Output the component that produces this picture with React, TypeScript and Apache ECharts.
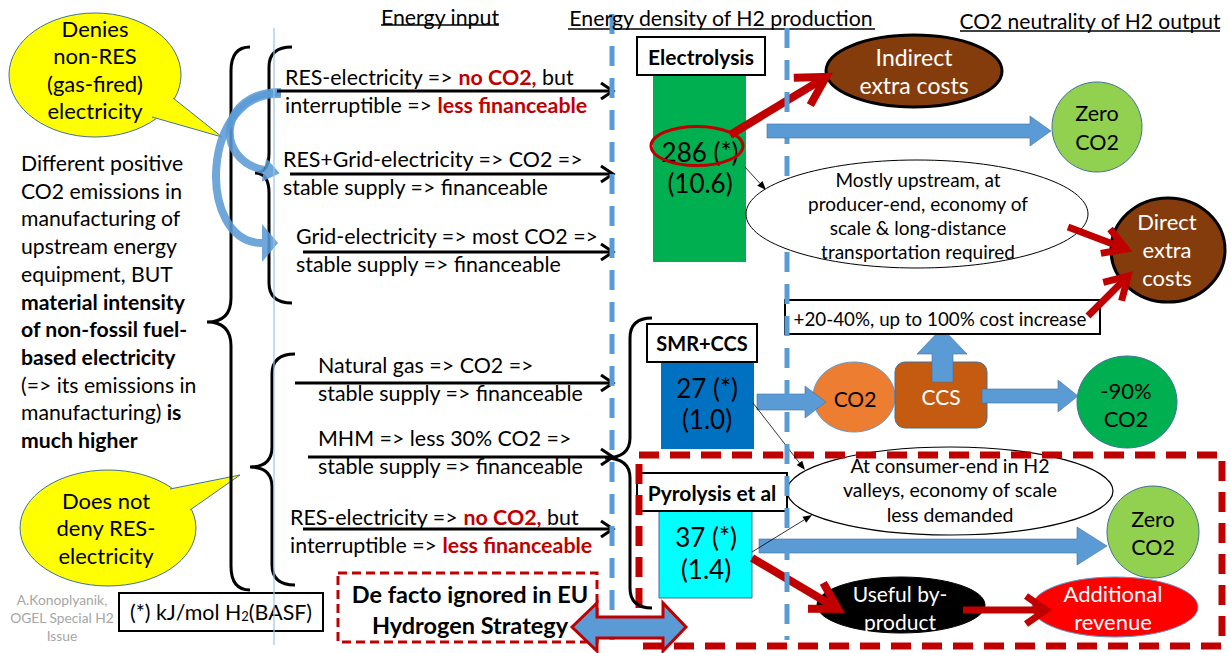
import React, { useEffect, useRef } from "react";
import * as echarts from "echarts";

// ---------------- data (texts & values) ----------------
const headers = ["Energy input", "Energy density of H2 production", "CO2 neutrality of H2 output"];
const calloutDenies = ["Denies", "non-RES", "(gas-fired)", "electricity"];
const calloutNotDeny = ["Does not", "deny RES-", "electricity"];
const leftNote = [
  "Different positive",
  "CO2 emissions in",
  "manufacturing of",
  "upstream energy",
  "equipment, BUT",
  "{b|material intensity}",
  "{b|of non-fossil fuel-}",
  "{b|based electricity}",
  "(=> its emissions in",
  "manufacturing) {b|is}",
  "{b|much higher}",
];
const credit = ["A.Konoplyanik,", "OGEL Special H2", "Issue"];
const unitNote = "(*) kJ/mol H{sub|2}(BASF)";
const energyInputs = [
  ["RES-electricity => {r|no CO2,} but", "interruptible => {r|less financeable}"],
  ["RES+Grid-electricity => CO2 =>", "stable supply => financeable"],
  ["Grid-electricity => most CO2 =>", "stable supply => financeable"],
  ["Natural gas => CO2 =>", "stable supply => financeable"],
  ["MHM => less 30% CO2 =>", "stable supply => financeable"],
  ["RES-electricity => {r|no CO2,} but", "interruptible => {r|less financeable}"],
];
const processes = ["Electrolysis", "SMR+CCS", "Pyrolysis et al"];
const energyDensity = [286, 27, 37];
const relativeDensity = ["10.6", "1.0", "1.4"];
const upstreamNote = ["Mostly upstream, at", "producer-end, economy of", "scale & long-distance", "transportation required"];
const consumerNote = ["At consumer-end in H2", "valleys, economy of scale", "less demanded"];
const indirectCosts = ["Indirect", "extra costs"];
const directCosts = ["Direct", "extra", "costs"];
const zeroCO2 = ["Zero", "CO2"];
const minus90CO2 = ["-90%", "CO2"];
const costIncrease = "+20-40%, up to 100% cost increase";
const ccsSteps = ["CO2", "CCS"];
const byProduct = ["Useful by-", "product"];
const revenue = ["Additional", "revenue"];
const ignoredNote = ["De facto ignored in EU", "Hydrogen Strategy"];

// ---------------- styling & layout ----------------
const F = "Lato, 'Open Sans', 'DejaVu Sans', sans-serif";
const RED = "#C00000";
const BLUE = "#5B9BD5";
const BROWN = "#843C0C";
const EDGE = "#41719C";

function bracePath(xt: number, yt: number, xv: number, xtip: number, ym: number, yb: number, r: number) {
  return `M${xt} ${yt}Q${xv} ${yt} ${xv} ${yt + r}L${xv} ${ym - r}Q${xv} ${ym} ${xtip} ${ym}Q${xv} ${ym} ${xv} ${ym + r}L${xv} ${yb - r}Q${xv} ${yb} ${xt} ${yb}`;
}
const BRACES: [string, number[]][] = [
  ["braceBig", [250, 47, 231, 207, 322, 590, 24]],
  ["braceUp", [292, 47, 269, 255, 173, 303, 20]],
  ["braceLow", [295, 354, 272, 250, 467, 585, 20]],
  ["braceRight", [652, 318, 630, 605, 458, 608, 20]],
];
let registered = false;
function registerBraces() {
  if (registered) return;
  registered = true;
  BRACES.forEach(([name, a]) => {
    echarts.graphic.registerShape(
      name,
      echarts.graphic.extendPath(bracePath(a[0], a[1], a[2], a[3], a[4], a[5], a[6]), {}) as any
    );
  });
}

function T(x: number, y: number, text: string, o: any = {}) {
  const size = o.size ?? 21;
  const base = {
    fontFamily: F,
    fontSize: size,
    fontWeight: o.bold ? "bold" : "normal",
    fill: o.color ?? "#000",
  };
  return {
    type: "text",
    x,
    y,
    z: o.z ?? 30,
    silent: true,
    style: {
      ...base,
      text,
      align: o.align ?? "left",
      verticalAlign: "middle",
      rich: {
        r: { ...base, fill: RED, fontWeight: "bold" },
        b: { ...base, fontWeight: "bold" },
        sub: { ...base, fontSize: Math.round(size * 0.62), verticalAlign: "bottom" },
      },
    },
  };
}
function ML(x: number, y0: number, dy: number, arr: string[], o: any = {}) {
  return arr.map((s, i) => T(x, y0 + i * dy, s, o));
}
function L(x1: number, y1: number, x2: number, y2: number, stroke = "#000", lw = 1, z = 10, dash?: number[]) {
  return {
    type: "line",
    z,
    silent: true,
    shape: { x1, y1, x2, y2 },
    style: { stroke, lineWidth: lw, lineDash: dash, lineCap: "butt" },
  };
}
function E(cx: number, cy: number, rx: number, ry: number, fill: string, stroke: string, lw: number, z = 12) {
  return { type: "ellipse", z, silent: true, shape: { cx, cy, rx, ry }, style: { fill, stroke, lineWidth: lw } };
}
function R(x: number, y: number, w: number, h: number, fill: string, stroke: string | null, lw: number, z = 12, extra: any = {}) {
  return {
    type: "rect",
    z,
    silent: true,
    shape: { x, y, width: w, height: h, r: extra.r ?? 0 },
    style: { fill, stroke, lineWidth: lw, lineDash: extra.dash },
  };
}
function P(points: number[][], fill: string, stroke: string | null = null, lw = 1, z = 12, opacity = 1) {
  return { type: "polygon", z, silent: true, shape: { points }, style: { fill, stroke, lineWidth: lw, opacity } };
}
function dir(x1: number, y1: number, x2: number, y2: number) {
  const dx = x2 - x1, dy = y2 - y1, len = Math.hypot(dx, dy);
  const ux = dx / len, uy = dy / len;
  return { ux, uy, px: -uy, py: ux };
}
// open-chevron arrow
function chevronArrow(x1: number, y1: number, x2: number, y2: number, color: string, lw: number, hl: number, hw: number, z = 20) {
  const { ux, uy, px, py } = dir(x1, y1, x2, y2);
  const bx = x2 - ux * hl, by = y2 - uy * hl;
  return [
    L(x1, y1, x2 - ux * lw * 0.8, y2 - uy * lw * 0.8, color, lw, z),
    {
      type: "polyline",
      z,
      silent: true,
      shape: { points: [[bx + px * hw, by + py * hw], [x2, y2], [bx - px * hw, by - py * hw]] },
      style: { stroke: color, lineWidth: lw, fill: "none", lineJoin: "miter", lineCap: "butt" },
    },
  ];
}
function thinArrow(x1: number, y1: number, x2: number, y2: number, z = 20) {
  const { ux, uy, px, py } = dir(x1, y1, x2, y2);
  const bx = x2 - ux * 9, by = y2 - uy * 9;
  return [
    L(x1, y1, bx, by, "#000", 0.8, z),
    P([[x2, y2], [bx + px * 3.5, by + py * 3.5], [bx - px * 3.5, by - py * 3.5]], "#000", null, 1, z),
  ];
}
function blockArrowH(x0: number, x1: number, xt: number, yc: number, sh: number, hh: number, z = 14) {
  return P(
    [[x0, yc - sh], [x1, yc - sh], [x1, yc - hh], [xt, yc], [x1, yc + hh], [x1, yc + sh], [x0, yc + sh]],
    BLUE,
    EDGE,
    0.6,
    z
  );
}
function curvedArrow(x1: number, y1: number, c1x: number, c1y: number, c2x: number, c2y: number, x2: number, y2: number, hw: number) {
  const { ux, uy, px, py } = dir(c2x, c2y, x2, y2);
  return [
    {
      type: "bezierCurve",
      z: 16,
      silent: true,
      shape: { x1, y1, x2, y2, cpx1: c1x, cpy1: c1y, cpx2: c2x, cpy2: c2y },
      style: { stroke: BLUE, lineWidth: 8, fill: "none", opacity: 0.88 },
    },
    P(
      [[x2 + ux * 16, y2 + uy * 16], [x2 + px * hw, y2 + py * hw], [x2 - px * hw, y2 - py * hw]],
      BLUE,
      null,
      1,
      16,
      0.88
    ),
  ];
}

const inputLayout = [
  { tx: 285, ty: 77, ax1: 277, ay: 91 },
  { tx: 283, ty: 159, ax1: 290, ay: 174 },
  { tx: 296, ty: 236, ax1: 303, ay: 252 },
  { tx: 318, ty: 365, ax1: 295, ay: 383 },
  { tx: 318, ty: 438, ax1: 308, ay: 457 },
  { tx: 290, ty: 517, ax1: 303, ay: 529 },
];
const procLayout = [
  { bx: 637, by: 37, bw: 128, bar: [653, 69, 93, 193], color: "#00B050", tx: 700, ty1: 152, ty2: 183, size: 21 },
  { bx: 647, by: 324, bw: 110, bar: [661, 357, 93, 92], color: "#0070C0", tx: 707, ty1: 388, ty2: 419, size: 20 },
  { bx: 637, by: 473, bw: 150, bar: [659, 506, 93, 92], color: "#00FFFF", tx: 706, ty1: 537, ty2: 569, size: 21 },
];

function buildElements() {
  const els: any[] = [];
  // headers
  els.push(T(440, 17, headers[0], { align: "center", size: 21.3 }));
  els.push(L(381, 25, 499, 25, "#000", 1.3));
  els.push(T(721, 18, headers[1], { align: "center", size: 21.3 }));
  els.push(L(568, 29, 875, 29, "#000", 1.3));
  els.push(T(1090, 20, headers[2], { align: "center", size: 21 }));
  els.push(L(960, 31, 1220, 31, "#000", 1.3));

  // vertical guides
  els.push(L(274, 28, 274, 645, "#9DC3E6", 1.2, 40));
  els.push(L(612, 14, 612, 640, BLUE, 5, 25, [20, 12]));
  els.push(L(787, 28, 787, 640, BLUE, 5, 25, [20, 12]));

  // yellow callouts
  els.push(E(95, 75, 86, 62, "#FFFF00", EDGE, 1, 5));
  els.push(P([[173, 98], [222, 137], [152, 117], [140, 100]], "#FFFF00", null, 1, 6));
  els.push(L(173, 98, 222, 137, EDGE, 1, 6));
  els.push(L(152, 117, 222, 137, EDGE, 1, 6));
  els.push(...ML(95, 28, 27.5, calloutDenies, { align: "center", size: 22 }));

  els.push(E(108, 528, 88, 58, "#FFFF00", EDGE, 1, 5));
  els.push(P([[170, 489], [240, 475], [190, 510], [170, 510]], "#FFFF00", null, 1, 6));
  els.push(L(170, 489, 240, 475, EDGE, 1, 6));
  els.push(L(190, 510, 240, 475, EDGE, 1, 6));
  els.push(...ML(106, 500, 27.5, calloutNotDeny, { align: "center", size: 22 }));

  // left note
  els.push(...ML(21, 163, 27.7, leftNote, { size: 21.2 }));
  // credit
  els.push(...ML(62, 599, 18, credit, { align: "center", size: 13.8, color: "#A6A6A6" }));
  // unit box
  els.push(R(119, 593, 204, 38, "#fff", "#000", 2, 12));
  els.push(T(221, 612, unitNote, { align: "center", size: 21.4 }));

  // braces
  BRACES.forEach(([name]) => {
    els.push({ type: name, z: 14, silent: true, style: { fill: "none", stroke: "#000", lineWidth: 3 } });
  });

  // curved blue arrows
  els.push(...curvedArrow(281, 92, 218, 92, 214, 160, 264, 170, 12));
  els.push(...curvedArrow(281, 94, 200, 90, 196, 243, 262, 243, 19));

  // energy input texts and arrows
  energyInputs.forEach((lines, i) => {
    const l = inputLayout[i];
    els.push(...ML(l.tx, l.ty, 27.7, lines, { size: 21.4 }));
    els.push(...chevronArrow(l.ax1, l.ay, 613, l.ay, "#000", 3, 12, 8, 20));
  });

  // processes
  processes.forEach((name, i) => {
    const p = procLayout[i];
    els.push(R(p.bar[0], p.bar[1], p.bar[2], p.bar[3], p.color, i === 2 ? EDGE : null, 1, 8));
    els.push(R(p.bx, p.by, p.bw, 38, "#fff", "#000", 2, 9));
    els.push(T(p.bx + p.bw / 2, p.by + 19, name, { align: "center", bold: true, size: p.size }));
    els.push(T(p.tx, p.ty1, `${energyDensity[i]} (*)`, { align: "center", size: 26 }));
    els.push(T(p.tx, p.ty2, `(${relativeDensity[i]})`, { align: "center", size: 26 }));
  });
  els.push(E(697, 146, 46, 19.5, "none", RED, 3, 31));

  // electrolysis outputs
  els.push(...chevronArrow(730, 135, 826, 77, RED, 8, 28, 16, 22));
  els.push(E(914, 71, 88, 36, BROWN, "#000", 3, 12));
  els.push(...ML(914, 57, 28, indirectCosts, { align: "center", size: 23, color: "#fff" }));
  els.push(blockArrowH(767, 1030, 1051, 131, 7, 15, 26));
  els.push(E(1097, 127, 45, 45, "#92D050", EDGE, 1, 12));
  els.push(...ML(1097, 113, 29, zeroCO2, { align: "center", size: 21.5 }));
  els.push(...thinArrow(745, 167, 766, 190));
  els.push(E(917, 214, 171, 54, "#fff", "#000", 1, 27));
  els.push(...ML(918, 179, 24.3, upstreamNote, { align: "center", size: 19 }));
  els.push(E(1168, 250, 57, 52, BROWN, "#000", 3, 12));
  els.push(...ML(1167, 221, 28, directCosts, { align: "center", size: 22, color: "#fff" }));
  els.push(...chevronArrow(1068, 227, 1126, 249, RED, 7, 22, 13, 29));
  els.push(...chevronArrow(1088, 316, 1128, 276, RED, 7, 22, 13, 29));

  // SMR + CCS
  els.push(R(785, 300, 315, 34, "#fff", "#000", 2, 20));
  els.push(T(940, 318, costIncrease, { align: "center", size: 18.8 }));
  els.push(blockArrowH(757, 805, 826, 402, 8, 16, 14));
  els.push(E(854, 397, 41, 35, "#ED7D31", BLUE, 1, 12));
  els.push(T(855, 398, ccsSteps[0], { align: "center", size: 21 }));
  els.push(R(895, 362, 92, 66, "#C55A11", EDGE, 1, 12, { r: 10 }));
  els.push(T(941, 396, ccsSteps[1], { align: "center", size: 21, color: "#fff" }));
  els.push(P([[932, 382], [932, 354], [917, 354], [942, 328], [967, 354], [953, 354], [953, 382]], BLUE, EDGE, 0.6, 14));
  els.push(blockArrowH(982, 1058, 1078, 396, 7, 16, 14));
  els.push(E(1127, 402, 50, 46, "#00B050", EDGE, 1, 12));
  els.push(...ML(1126, 390, 28, minus90CO2, { align: "center", size: 22 }));
  els.push(...thinArrow(753, 403, 805, 470));

  // pyrolysis region
  els.push(E(950, 491, 163, 44, "#fff", "#000", 1.2, 11));
  els.push(...ML(950, 465, 24.5, consumerNote, { align: "center", size: 19.5 }));
  els.push(R(639, 455, 583, 191, "none", RED, 7, 13, { dash: [20, 11] }));
  els.push(...thinArrow(752, 552, 812, 515));
  els.push(blockArrowH(759, 1077, 1107, 546, 7, 19, 14));
  els.push(E(1153, 532, 46, 46, "#92D050", EDGE, 1, 12));
  els.push(...ML(1153, 519, 28, zeroCO2, { align: "center", size: 21.5 }));
  els.push(...chevronArrow(752, 558, 838, 609, RED, 8, 26, 15, 22));
  els.push(E(901, 605, 84, 28, "#000", "#000", 1, 12));
  els.push(...ML(900, 593, 28, byProduct, { align: "center", size: 21, color: "#fff" }));
  els.push(E(1115, 607, 83, 30, "#FF0000", BLUE, 1, 12));
  els.push(...chevronArrow(963, 610, 1046, 610, RED, 7, 20, 14, 22));
  els.push(...ML(1113, 593, 28, revenue, { align: "center", size: 22, color: "#fff" }));

  // ignored note + double arrow
  els.push(R(338, 573, 259, 69, "#fff", RED, 3, 12, { dash: [9, 5] }));
  els.push(...ML(470, 594, 31, ignoredNote, { align: "center", size: 23.5, bold: true }));
  els.push(
    P(
      [[572, 627], [597, 603], [597, 617], [663, 617], [663, 603], [686, 627], [663, 651], [663, 638], [597, 638], [597, 651]],
      BLUE,
      RED,
      3,
      28
    )
  );
  return els;
}

export default function App() {
  const ref = useRef<HTMLDivElement>(null);
  useEffect(() => {
    registerBraces();
    const chart = echarts.init(ref.current!, null, { renderer: "svg" });
    chart.setOption({
      animation: false,
      backgroundColor: "#ffffff",
      graphic: { elements: buildElements() },
    });
    return () => chart.dispose();
  }, []);
  return <div ref={ref} style={{ position: "fixed", left: 0, top: 0, width: 1231, height: 653 }} />;
}
